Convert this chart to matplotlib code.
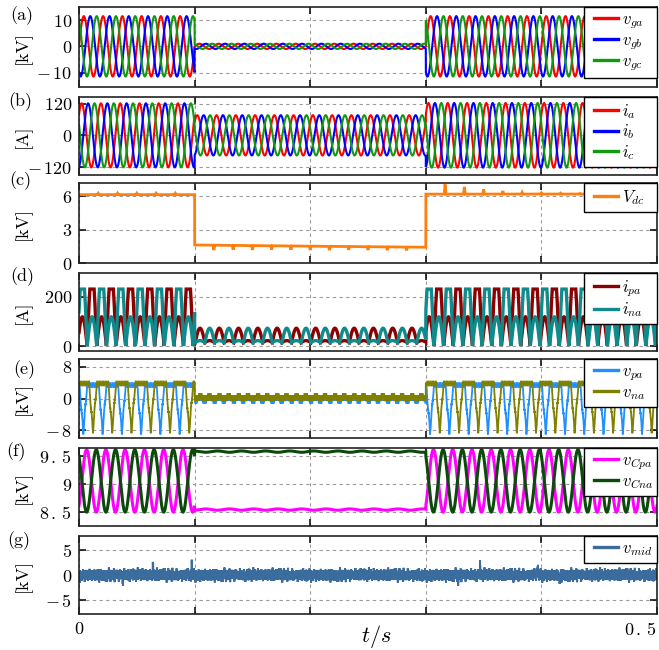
import numpy as np
import matplotlib
matplotlib.use("Agg")
import matplotlib.pyplot as plt
from matplotlib.legend_handler import HandlerLine2D

plt.rcParams.update({
    "font.family": "serif",
    "font.serif": ["cmr10"],
    "mathtext.fontset": "cm",
    "axes.formatter.use_mathtext": True,
    "axes.unicode_minus": False,
})

# ---------------- operating conditions ----------------
f0 = 60.0                      # fundamental frequency [Hz]
t_span = [0.0, 0.5]            # simulated interval [s]
t_sag = [0.1, 0.3]             # start / end of the voltage sag [s]

# (a) grid voltages: peak per segment (before, during, after) [kV]
vg_peak = [11.5, 1.0, 11.5]
vg_phase = 0.0
# (b) grid currents: peak per segment [A]
ig_peak = [121.0, 76.0, 122.0]
ig_phase = 0.70
# (c) dc-link voltage [kV]
vdc_before = 6.15
vdc_sag = [1.62, 1.42]         # level at start / end of the sag
vdc_after = 6.20
vdc_spikes_before = [0.12, 0.12, 0.12, 0.12, 0.12]
vdc_spikes_sag = [-0.45, -0.40, -0.40, -0.35, -0.35, -0.35, -0.35, -0.30, -0.30, -0.30, -0.30]
vdc_spikes_after = [0.88, 0.65, 0.42, 0.28, 0.16, 0.10, 0.08, 0.07, 0.06, 0.05, 0.05]
# (d) arm currents: (large hump, small hump, floor) per segment [A]
iarm_levels = [(230.0, 118.0, 0.0), (58.0, 8.0, 14.0), (230.0, 118.0, 0.0)]
iarm_phase = [0.48, 2.94, 0.48]
# (e) arm voltages [kV]
varm_top = [3.4, 3.8]          # v_pa, v_na upper plateau
varm_bottom = [-8.6, -8.3]     # v_pa, v_na trough
varm_dip_center = 0.222        # cycle fraction of the v_pa trough
varm_sag_band = [(-0.35, 0.45), (-0.45, 0.55)]   # switching band during the sag
varm_sag_block = [-0.75, 0.6]                    # periodic block offset during the sag
varm_switch_hz = 1020.0
# (f) arm capacitor voltages [kV]
vc_mean = 9.06
vc_ripple = 0.56
vc_phase = -0.92
vc_sag = [8.545, 9.585]        # v_Cpa, v_Cna during the sag
# (g) mid-point voltage: ripple components and isolated spikes [kV]
vmid_freqs = [310.0, 530.0, 770.0, 1130.0, 1790.0, 2470.0, 3130.0, 3890.0, 4610.0, 5330.0]
vmid_amps = [0.18, 0.22, 0.20, 0.30, 0.26, 0.28, 0.24, 0.25, 0.22, 0.20]
vmid_phases = [1.1, 2.8, 0.5, 0.3, 1.9, 4.1, 2.6, 5.2, 0.9, 3.7]
vmid_spike_t = [0.038, 0.064, 0.0975, 0.2436, 0.328, 0.347, 0.397, 0.416]
vmid_spike_h = [-1.8, 2.2, 2.5, 1.0, -1.5, 2.2, 2.0, -1.8]

# ---------------- axis annotation ----------------
panel_tags = ["(a)", "(b)", "(c)", "(d)", "(e)", "(f)", "(g)"]
units = ["[kV]", "[A]", "[kV]", "[A]", "[kV]", "[kV]", "[kV]"]
ylims = [(-15.5, 15.0), (-150, 145), (0, 7.2), (-20, 295), (-10, 10), (8.25, 9.65), (-7.9, 7.9)]
yticks = [[-10, 0, 10], [-120, 0, 120], [0, 3, 6], [0, 200], [-8, 0, 8], [8.5, 9, 9.5], [-5, 0, 5]]
yticklabels = [
    [r"$-\,10$", r"$0$", r"$10$"],
    [r"$-\,120$", r"$0$", r"$120$"],
    [r"$0$", r"$3$", r"$6$"],
    [r"$0$", r"$200$"],
    [r"$-\,8$", r"$0$", r"$8$"],
    [r"$8\,.\,5$", r"$9$", r"$9\,.\,5$"],
    [r"$-\,5$", r"$0$", r"$5$"],
]
xticklabels = [r"$0$", "", "", "", "", r"$0\,.\,5$"]
legend_labels = [
    [r"$v_{ga}$", r"$v_{gb}$", r"$v_{gc}$"],
    [r"$i_a$", r"$i_b$", r"$i_c$"],
    [r"$V_{dc}$"],
    [r"$i_{pa}$", r"$i_{na}$"],
    [r"$v_{pa}$", r"$v_{na}$"],
    [r"$v_{Cpa}$", r"$v_{Cna}$"],
    [r"$v_{mid}$"],
]
colors = [
    ["#ff0000", "#0000ff", "#119911"],
    ["#ff0000", "#0000ff", "#119911"],
    ["#ff7f0e"],
    ["#8b0000", "#108a8a"],
    ["#1e90ff", "#808000"],
    ["#ff00ff", "#0b4a0b"],
    ["#3b6c9e"],
]
linewidths = [1.5, 1.5, 2.0, 2.4, 1.3, 2.2, 1.4]

# ---------------- waveforms ----------------
t = np.linspace(t_span[0], t_span[1], 30001)
theta = 2 * np.pi * f0 * t
seg = np.where(t < t_sag[0], 0, np.where(t < t_sag[1], 1, 2))
cyc = t * f0


def pulses(times, heights, width=0.0007):
    out = np.zeros_like(t)
    for tk, hk in zip(times, heights):
        out += hk * np.clip(1 - np.abs(t - tk) / width, 0, 1)
    return out


shift = [0.0, -2 * np.pi / 3, 2 * np.pi / 3]
amp_v = np.array(vg_peak)[seg]
vg = [amp_v * np.sin(theta + vg_phase + s) for s in shift]
amp_i = np.array(ig_peak)[seg]
ig = [amp_i * np.sin(theta + ig_phase + s) for s in shift]

frac_sag = np.clip((t - t_sag[0]) / (t_sag[1] - t_sag[0]), 0, 1)
vdc = np.select([seg == 0, seg == 1], [vdc_before, vdc_sag[0] + (vdc_sag[1] - vdc_sag[0]) * frac_sag], vdc_after)
k1 = np.arange(1, len(vdc_spikes_before) + 1) / f0
k2 = t_sag[0] + np.arange(1, len(vdc_spikes_sag) + 1) / f0
k3 = t_sag[1] + np.arange(1, len(vdc_spikes_after) + 1) / f0
vdc = vdc + pulses(k1, vdc_spikes_before) + pulses(k2, vdc_spikes_sag) + pulses(k3, vdc_spikes_after)

big = np.array([lv[0] for lv in iarm_levels])[seg]
small = np.array([lv[1] for lv in iarm_levels])[seg]
floor = np.array([lv[2] for lv in iarm_levels])[seg]
sd = np.sin(theta + np.array(iarm_phase)[seg])
flat = np.where(seg == 1, np.abs(sd), np.minimum(1.0, 1.3 * np.abs(sd)))
ipa = floor + np.where(sd < 0, big * flat, small * np.abs(sd))
ina = floor + np.where(sd > 0, big * flat, small * np.abs(sd))

stair = 0.5 * np.round(np.sin(2 * np.pi * 7 * f0 * t + 0.4))
varm = []
for j, off in enumerate([0.0, 0.5]):
    p = np.mod(cyc - varm_dip_center - off, 1.0)
    dist = np.minimum(p, 1 - p)
    dip = np.clip(1 - dist / 0.2, 0, 1)
    normal = varm_top[j] + stair * (1 if j == 0 else -1) - (varm_top[j] - varm_bottom[j]) * dip
    lo, hi = varm_sag_band[j]
    sw = np.sin(2 * np.pi * varm_switch_hz * t + 1.3 * j)
    band = np.where(sw > 0, hi, lo)
    block = np.where(np.sin(2 * theta + 1.2 + np.pi * j) > 0.5, varm_sag_block[j], 0.0)
    sag = band + block
    varm.append(np.where(seg == 1, sag, normal))

ripple = vc_ripple * np.sin(theta + vc_phase)
wig = 0.012 * np.sin(0.8 * theta)
vcpa = np.where(seg == 1, vc_sag[0] + wig, vc_mean + ripple)
vcna = np.where(seg == 1, vc_sag[1] - wig, vc_mean - ripple)

vmid = np.zeros_like(t)
for fk, ak, pk in zip(vmid_freqs, vmid_amps, vmid_phases):
    vmid += ak * np.sin(2 * np.pi * fk * t + pk)
vmid += pulses(vmid_spike_t, vmid_spike_h, width=0.0005)

series = [vg, ig, [vdc], [ipa, ina], varm, [vcpa, vcna], [vmid]]


class InsetLine(HandlerLine2D):
    """Legend line that leaves a blank margin on the left of the handle box."""

    def __init__(self, lead=0.2, **kw):
        super().__init__(**kw)
        self.lead = lead

    def create_artists(self, legend, orig_handle, xdescent, ydescent, width,
                       height, fontsize, trans):
        arts = super().create_artists(legend, orig_handle, xdescent, ydescent,
                                      width, height, fontsize, trans)
        for a in arts:
            xd = np.asarray(a.get_xdata(), dtype=float)
            if xd.size > 1:
                lo, hi = xd.min(), xd.max()
                a.set_xdata(lo + self.lead * (hi - lo) + (xd - lo) * (1 - self.lead))
        return arts


# ---------------- figure ----------------
W, H = 659, 650
fig = plt.figure(figsize=(W / 100, H / 100), dpi=100)
rows_px = [(7, 87), (97, 175), (183, 263), (273, 351), (359, 438), (448, 526), (536, 614)]
tag_px = [(22, 16), (20, 102), (20, 181), (22, 277), (24, 370), (16, 452), (19, 541)]
x0, x1 = 79, 657

for i, (top, bot) in enumerate(rows_px):
    ax = fig.add_axes([x0 / W, 1 - bot / H, (x1 - x0) / W, (bot - top) / H])
    for y, c, lab in zip(series[i], colors[i], legend_labels[i]):
        ax.plot(t, y, color=c, lw=linewidths[i], label=lab, solid_joinstyle="miter")
    ax.set_xlim(*t_span)
    ax.set_ylim(*ylims[i])
    ax.set_yticks(yticks[i], yticklabels[i])
    ax.set_xticks(np.linspace(0, 0.5, 6))
    if i == len(rows_px) - 1:
        ax.set_xticklabels(xticklabels)
        labs = ax.get_xticklabels()
        labs[-1].set_horizontalalignment("right")
    else:
        ax.set_xticklabels([])
    ax.tick_params(direction="in", top=True, right=True, length=5, width=1.1,
                   labelsize=13, pad=5, colors="black")
    ax.grid(True, color="#9a9a9a", ls=(0, (3, 3)), lw=0.8)
    for sp in ax.spines.values():
        sp.set_linewidth(1.2)
        sp.set_color("#222222")
    ax.set_ylabel(units[i], fontsize=13)
    ax.yaxis.set_label_coords((32 - x0) / (x1 - x0), 0.5)
    wl = 73 / (x1 - x0)
    leg = ax.legend(loc="upper left", bbox_to_anchor=(1 - wl, 0.0, wl, 1.0), mode="expand",
                    borderaxespad=0.0, fancybox=False, framealpha=1.0, edgecolor="black",
                    fontsize=12, handlelength=1.74, handletextpad=0.22, labelspacing=0.1,
                    borderpad=0.3, handler_map={plt.Line2D: InsetLine(lead=0.17)})
    for ln in leg.get_lines():
        ln.set_linewidth(2.4)
    fig.text(tag_px[i][0] / W, 1 - tag_px[i][1] / H, panel_tags[i], fontsize=13,
             ha="center", va="center")

fig.text(376 / W, 1 - 636 / H, r"$t/s$", fontsize=16, ha="center", va="center")
fig.savefig("out.png", dpi=100)
